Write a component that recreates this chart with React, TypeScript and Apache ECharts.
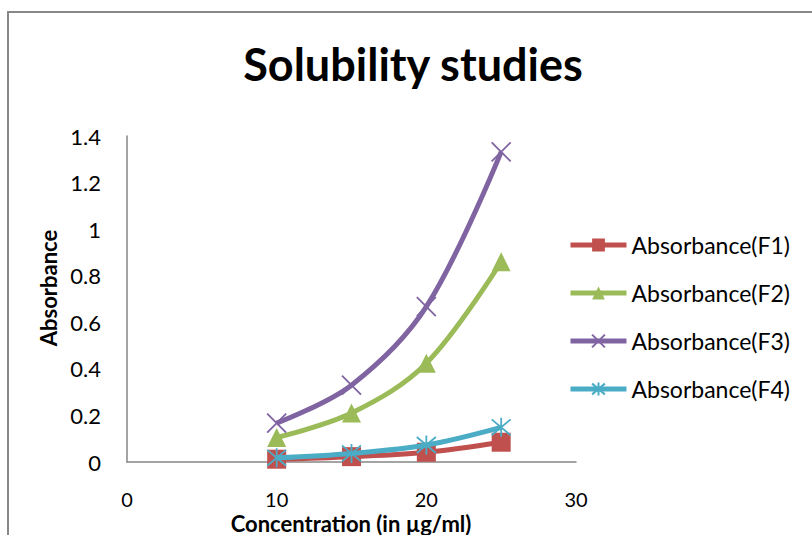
import React, { useEffect, useRef } from "react";
import * as echarts from "echarts";

const xValues = [10, 15, 20, 25];
const seriesNames = ["Absorbance(F1)", "Absorbance(F2)", "Absorbance(F3)", "Absorbance(F4)"];
const f1 = [0.012, 0.023, 0.042, 0.085];
const f2 = [0.105, 0.21, 0.424, 0.86];
const f3 = [0.167, 0.33, 0.667, 1.332];
const f4 = [0.018, 0.037, 0.073, 0.149];
const colors = ["#C0504D", "#9BBB59", "#8064A2", "#4BACC6"];

const FONT = "Lato";

export default function App() {
  const ref = useRef<HTMLDivElement>(null);
  useEffect(() => {
    if (!ref.current) return;
    const chart = echarts.init(ref.current, undefined, { renderer: "svg" });
    const all = [f1, f2, f3, f4];
    const symbols = [
      "rect",
      "triangle",
      "path://M0,0L10,10M10,0L0,10",
      "path://M5,0L5,10M0.8,0.8L9.2,9.2M9.2,0.8L0.8,9.2",
    ];
    const sizes = [19, 19, 19, 19];
    const series = all.map((vals, i) => {
      const stroked = i >= 2;
      return {
        name: seriesNames[i],
        type: "line",
        smooth: 0.35,
        data: vals.map((v, j) => [xValues[j], v]),
        symbol: symbols[i],
        symbolSize: sizes[i],
        showSymbol: true,
        lineStyle: { color: colors[i], width: 5 },
        itemStyle: stroked
          ? { color: "rgba(0,0,0,0)", borderColor: colors[i], borderWidth: 1.8 }
          : { color: colors[i], borderColor: colors[i], borderWidth: 0 },
        z: [1, 2, 3, 4][i],
      };
    });
    chart.setOption({
      animation: false,
      backgroundColor: "#ffffff",
      graphic: [
        {
          type: "rect",
          shape: { x: 8, y: 12, width: 900, height: 700 },
          style: { fill: "none", stroke: "#888888", lineWidth: 2 },
          silent: true,
          z: -10,
        },
        {
          type: "text",
          x: 413,
          y: 64,
          style: {
            text: "Solubility studies",
            fontFamily: FONT,
            fontWeight: "bold",
            fontSize: 45,
            fill: "#000",
            align: "center",
            verticalAlign: "middle",
          },
        },
        {
          type: "text",
          x: 351,
          y: 523,
          style: {
            text: "Concentration (in µg/ml)",
            fontFamily: FONT,
            fontWeight: "bold",
            fontSize: 22,
            fill: "#000",
            align: "center",
            verticalAlign: "middle",
          },
        },
        {
          type: "text",
          x: 48,
          y: 288,
          rotation: Math.PI / 2,
          style: {
            text: "Absorbance",
            fontFamily: FONT,
            fontWeight: "bold",
            fontSize: 22,
            fill: "#000",
            align: "center",
            verticalAlign: "middle",
          },
        },
      ],
      legend: {
        orient: "vertical",
        left: 563,
        top: 228,
        itemGap: 24,
        itemWidth: 56,
        itemHeight: 16,
        lineStyle: { width: 5 },
        textStyle: { fontFamily: FONT, fontSize: 23, lineHeight: 24, color: "#000" },
        data: seriesNames,
      },
      grid: { left: 127, top: 136, width: 449, height: 326, containLabel: false, outerBoundsMode: "none" },
      xAxis: {
        type: "value",
        min: 0,
        max: 30,
        interval: 10,
        axisLine: { show: true, lineStyle: { color: "#868686", width: 1.5 } },
        axisTick: { show: false },
        splitLine: { show: false },
        axisLabel: { margin: 27, fontFamily: FONT, fontSize: 20, color: "#000" },
      },
      yAxis: {
        type: "value",
        min: 0,
        max: 1.4,
        interval: 0.2,
        axisLine: { show: true, lineStyle: { color: "#868686", width: 1.5 } },
        axisTick: { show: false },
        splitLine: { show: false },
        axisLabel: {
          margin: 26,
          fontFamily: FONT,
          fontSize: 22,
          color: "#000",
          formatter: (v: number) => String(Math.round(v * 10) / 10),
        },
      },
      series,
    });
    return () => chart.dispose();
  }, []);
  return <div ref={ref} style={{ width: 812, height: 535, position: "absolute", left: 0, top: 0 }} />;
}
